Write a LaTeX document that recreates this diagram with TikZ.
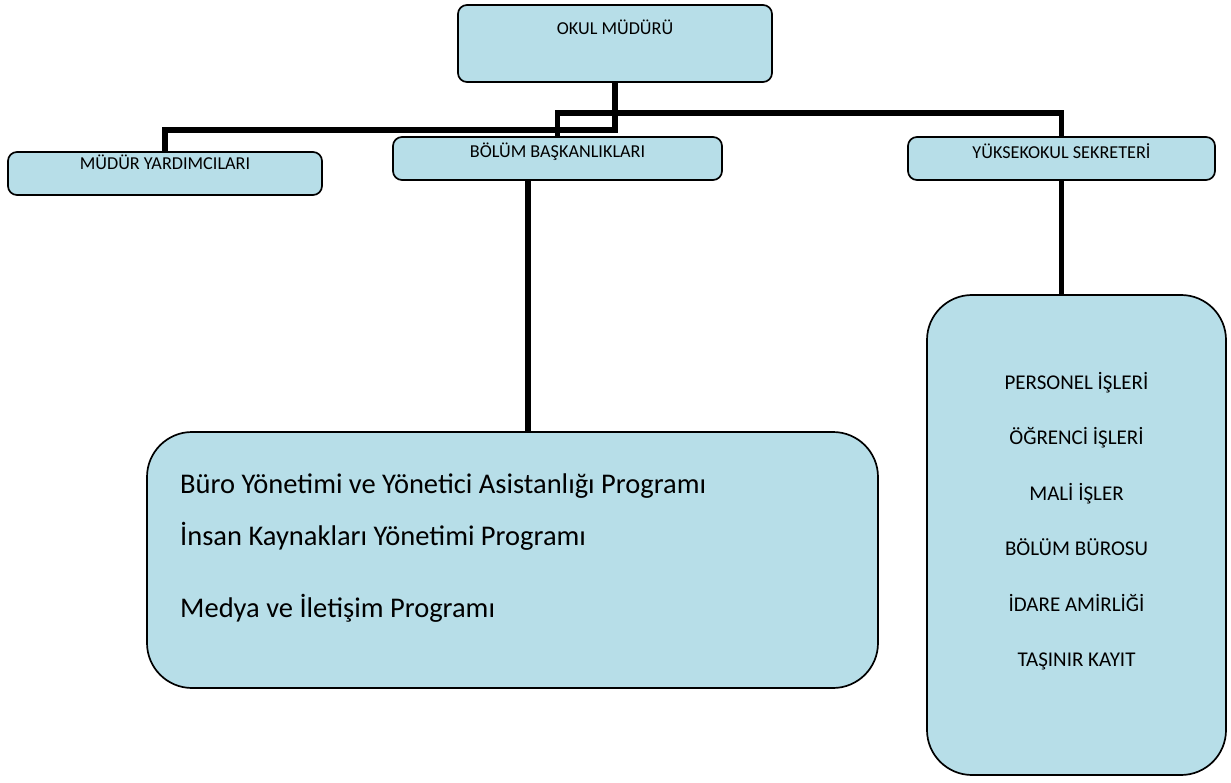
\documentclass[tikz,border=0pt]{standalone}
\usepackage{fontspec}
\setmainfont{Carlito}
\definecolor{boxfill}{HTML}{B7DEE8}
\begin{document}
\begin{tikzpicture}[x=1pt,y=-1pt,
  box/.style={draw=black, line width=1.7pt, fill=boxfill, rounded corners=9pt, inner sep=0pt, outer sep=0pt},
  bigbox/.style={box, rounded corners=45pt},
  conn/.style={line width=5.5pt, black, line join=miter},
  smalltxt/.style={font=\fontsize{18.2}{21}\selectfont, inner sep=0pt, anchor=base},
  sectxt/.style={font=\fontsize{21}{24}\selectfont, inner sep=0pt, anchor=base},
  progtxt/.style={font=\fontsize{28.5}{33}\selectfont, inner sep=0pt, anchor=base west}]
\useasboundingbox (0,0) rectangle (1231,783);
% connectors (drawn first, under the boxes)
\coordinate (okulS) at (615,82);
\coordinate (mudurN) at (165,152);
\coordinate (bolumN) at (557.5,137);
\coordinate (yukN) at (1061.5,137);
\coordinate (bolumS) at (528,180);
\coordinate (bigN) at (528,432);
\coordinate (yukS) at (1061.5,180);
\coordinate (secN) at (1061.5,295);
\draw[conn] (okulS) -- ++(0,48) -| (mudurN);
\draw[conn] (bolumN) -- ++(0,-24) -| (yukN);
\draw[conn] (bolumS) -- (bigN);
\draw[conn] (yukS) -- (secN);
% boxes
\node[box, minimum width=314, minimum height=77] (okul) at (615,43.5) {};
\node[box, minimum width=314, minimum height=43] (mudur) at (165,173.5) {};
\node[box, minimum width=329, minimum height=43] (bolum) at (557.5,158.5) {};
\node[box, minimum width=307, minimum height=43] (yuk) at (1061.5,158.5) {};
\node[bigbox, minimum width=731, minimum height=256] (big) at (512.5,560) {};
\node[bigbox, minimum width=299, minimum height=480] (sec) at (1076.5,535) {};
% texts
\node[smalltxt] (okulT) at (615,35) {OKUL MÜDÜRÜ};
\node[smalltxt] (mudurT) at (165,170) {MÜDÜR YARDIMCILARI};
\node[smalltxt] (bolumT) at (557.5,158) {BÖLÜM BAŞKANLIKLARI};
\node[smalltxt] (yukT) at (1061.5,159) {YÜKSEKOKUL SEKRETERİ};
\node[progtxt] (p1) at (180,493) {Büro Yönetimi ve Yönetici Asistanlığı Programı};
\node[progtxt] (p2) at (180,545) {İnsan Kaynakları Yönetimi Programı};
\node[progtxt] (p3) at (180,617) {Medya ve İletişim Programı};
\node[sectxt] (s1) at (1076.5,389) {PERSONEL İŞLERİ};
\node[sectxt] (s2) at (1076.5,444.5) {ÖĞRENCİ İŞLERİ};
\node[sectxt] (s3) at (1076.5,500) {MALİ İŞLER};
\node[sectxt] (s4) at (1076.5,555.5) {BÖLÜM BÜROSU};
\node[sectxt] (s5) at (1076.5,611) {İDARE AMİRLİĞİ};
\node[sectxt] (s6) at (1076.5,666.5) {TAŞINIR KAYIT};
\end{tikzpicture}
\end{document}
